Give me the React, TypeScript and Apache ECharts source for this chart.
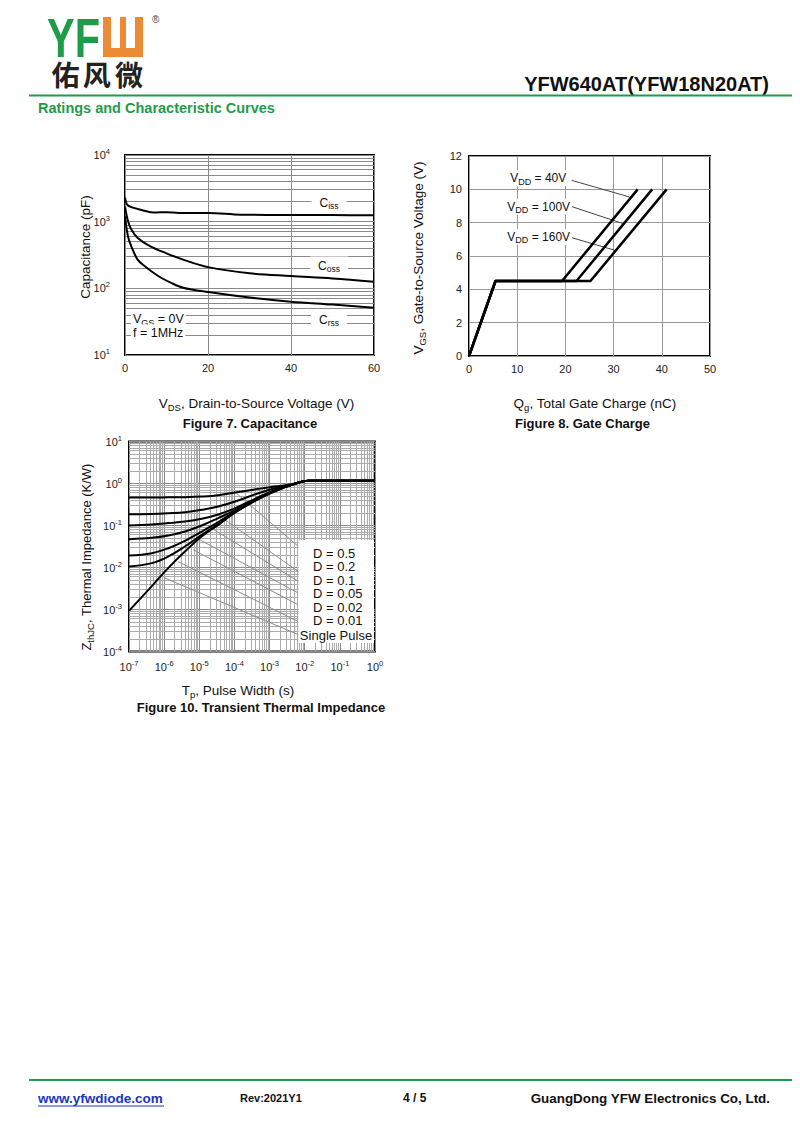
import React, { useEffect, useRef } from "react";
import * as echarts from "echarts";

// ---------- Figure 7: Capacitance (pF vs V_DS) ----------
const cissVds = [0, 0.5, 1.5, 4, 7, 10, 13, 20, 28, 40, 50, 60];
const cissPf = [2300, 1800, 1650, 1500, 1370, 1390, 1350, 1350, 1270, 1260, 1255, 1250];
const cossVds = [0, 0.7, 1.5, 3, 6, 10, 14, 20, 30, 40, 50, 60];
const cossPf = [1700, 1030, 770, 575, 430, 335, 270, 208, 168, 153, 141, 126];
const crssVds = [0, 0.7, 1.5, 3, 4.7, 8, 11, 14, 20, 30, 40, 50, 60];
const crssPf = [1200, 610, 430, 272, 216, 153, 122, 102, 88, 73, 63, 57, 51];

// ---------- Figure 8: Gate charge ----------
const gcVgs = [0, 4.5, 4.5, 10];
const gcQ40 = [0, 5.5, 19.3, 35];
const gcQ100 = [0, 5.5, 22.3, 38];
const gcQ160 = [0, 5.5, 25.2, 41];
const gcLabels = ["40V", "100V", "160V"];
const leaderFromQ = [21.3, 20.95, 20.95];
const leaderFromV = [10.54, 9.0, 7.13];
const leaderToQ = [33.3, 31.8, 30.2];
const leaderToV = [9.54, 7.96, 6.35];

// ---------- Figure 10: Transient thermal impedance ----------
const tpSec = [1e-7, 4.47e-7, 1.32e-6, 3.9e-6, 1.17e-5, 3.47e-5, 1.05e-4, 4.8e-4, 1.41e-3, 4.27e-3, 1.26e-2, 1];
const zD050 = [0.465, 0.465, 0.469, 0.473, 0.49, 0.527, 0.611, 0.745, 0.849, 0.962, 1.156, 1.156];
const zD020 = [0.186, 0.189, 0.196, 0.207, 0.236, 0.283, 0.372, 0.587, 0.773, 0.946, 1.156, 1.156];
const zD010 = [0.1, 0.106, 0.114, 0.124, 0.144, 0.183, 0.259, 0.473, 0.693, 0.929, 1.156, 1.156];
const zD005 = [0.0472, 0.0508, 0.0578, 0.0719, 0.1, 0.15, 0.232, 0.456, 0.681, 0.929, 1.156, 1.156];
const zD002 = [0.0193, 0.0219, 0.0288, 0.0431, 0.0719, 0.12, 0.215, 0.44, 0.668, 0.929, 1.156, 1.156];
const zD001 = [0.0106, 0.0127, 0.0183, 0.0316, 0.06, 0.108, 0.207, 0.431, 0.656, 0.929, 1.156, 1.156];
const zSingle = [0.00093, 0.0036, 0.0098, 0.024, 0.0547, 0.1035, 0.204, 0.427, 0.646, 0.929, 1.156, 1.156];
const dutyLabels = ["D = 0.5", "D = 0.2", "D = 0.1", "D = 0.05", "D = 0.02", "D = 0.01"];
// faint template diagonals (exponents)
const diagFromLogT = [-3.92, -4.46, -4.74, -5.07, -5.17, -5.6, -5.98];
const diagFromLogZ = [-0.25, -0.75, -1.02, -1.3, -1.58, -1.86, -2.25];
const diagToLogT = [-2.18, -2.18, -2.18, -2.18, -2.18, -2.18, -2.18];
const diagToLogZ = [-1.5, -2.1, -2.33, -2.61, -2.89, -3.29, -3.6];

const MINOR_STEPS = [2, 3, 4, 5, 6, 7, 8, 9];

const FONT = '"Liberation Sans", Arial, Helvetica, sans-serif';
const CJK = '"Noto Sans CJK SC", sans-serif';
const GREEN = "#1f9c4a";
const ORANGE = "#ec8a36";

const minorLogs = (from: number, to: number) => {
  const out: number[] = [];
  for (let n = from; n < to; n++) MINOR_STEPS.forEach((k) => out.push(n + Math.log10(k)));
  return out;
};

const sub = (size: number) => ({
  fontSize: size,
  fontFamily: FONT,
  fill: "#111",
  color: "#111",
  verticalAlign: "bottom",
  lineHeight: size + 1,
});

function txt(x: number, y: number, text: string, size: number, o: any = {}) {
  const style: any = {
    text,
    fontSize: size,
    fontFamily: o.family || FONT,
    fontWeight: o.bold ? "bold" : "normal",
    fill: o.color || "#111",
    textAlign: o.align || "left",
    align: o.align || "left",
    textVerticalAlign: "middle",
    verticalAlign: "middle",
    lineHeight: o.lineHeight || Math.round(size * 1.35),
  };
  if (o.bg) {
    style.backgroundColor = o.bg;
    style.padding = o.padding || [0, 3];
  }
  if (o.rich) style.rich = o.rich;
  return {
    type: "text",
    x,
    y,
    z: 100,
    rotation: o.rotation || 0,
    scaleX: o.scaleX || 1,
    silent: true,
    style,
  };
}

const line = (x1: number, y1: number, x2: number, y2: number, color: string, w: number) => ({
  type: "line",
  z: 100,
  silent: true,
  shape: { x1, y1, x2, y2 },
  style: { stroke: color, lineWidth: w },
});

const rect = (x: number, y: number, w: number, h: number, fill: string, z = 100) => ({
  type: "rect",
  z,
  silent: true,
  shape: { x, y, width: w, height: h },
  style: { fill },
});

const baseLabel = { fontFamily: FONT, fontSize: 11, color: "#222" };
const powLabel = (margin: number) => ({
  ...baseLabel,
  margin,
  lineHeight: 15,
  showMinLabel: true,
  showMaxLabel: true,
  hideOverlap: false,
  formatter: (v: number) => "10{sup|" + Math.round(v) + "}",
  rich: { sup: { fontFamily: FONT, fontSize: 7.5, color: "#222", verticalAlign: "top", lineHeight: 8 } },
});
const linLabel = (margin: number) => ({
  ...baseLabel,
  margin,
  showMinLabel: true,
  showMaxLabel: true,
  hideOverlap: false,
});

const axisCommon = (gi: number, min: number, max: number, interval: number, label: any, split: string) => ({
  gridIndex: gi,
  type: "value",
  min,
  max,
  interval,
  axisLine: { show: false },
  axisTick: { show: false },
  splitLine: { show: true, lineStyle: { color: split, width: 1 } },
  axisLabel: label,
});

function gridLines(gi: number, vals: number[], axis: string, color: string) {
  return {
    type: "line",
    xAxisIndex: gi,
    yAxisIndex: gi,
    data: [],
    silent: true,
    z: 1,
    markLine: {
      silent: true,
      z: 1,
      symbol: ["none", "none"],
      label: { show: false },
      emphasis: { disabled: true },
      lineStyle: { color, width: 1, type: "solid" },
      data: vals.map((v) => ({ [axis]: v })),
    },
  };
}

function curve(gi: number, pts: number[][], width: number, smooth: any, color = "#000", z = 10) {
  return {
    type: "line",
    xAxisIndex: gi,
    yAxisIndex: gi,
    showSymbol: false,
    symbol: "none",
    smooth,
    silent: true,
    z,
    lineStyle: { color, width, join: "round" },
    data: pts,
  };
}

function buildOption() {
  const L = Math.log10;
  const cap = (xs: number[], ys: number[]) => xs.map((x, i) => [x, L(ys[i])]);
  const gc = (qs: number[]) => qs.map((q, i) => [q, gcVgs[i]]);
  const th = (zs: number[]) => tpSec.map((t, i) => [L(t), L(zs[i])]);

  const series: any[] = [
    // Fig 7
    gridLines(0, minorLogs(1, 4), "yAxis", "#8a8a8a"),
    curve(0, cap(cissVds, cissPf), 2, 0.35),
    curve(0, cap(cossVds, cossPf), 2, 0.35),
    curve(0, cap(crssVds, crssPf), 2, 0.35),
    // Fig 8
    curve(1, gc(gcQ40), 2.5, false),
    curve(1, gc(gcQ100), 2.5, false),
    curve(1, gc(gcQ160), 2.5, false),
    ...leaderFromQ.map((q, i) =>
      curve(1, [[q, leaderFromV[i]], [leaderToQ[i], leaderToV[i]]], 1, false, "#444", 9)
    ),
    // Fig 10
    gridLines(2, minorLogs(-7, 0), "xAxis", "#ababab"),
    gridLines(2, minorLogs(-4, 1), "yAxis", "#ababab"),
    ...diagFromLogT.map((t, i) =>
      curve(2, [[t, diagFromLogZ[i]], [diagToLogT[i], diagToLogZ[i]]], 1, false, "#8c8c8c", 5)
    ),
    curve(2, th(zSingle), 2, 0.4),
    curve(2, th(zD001), 2, 0.4),
    curve(2, th(zD002), 2, 0.4),
    curve(2, th(zD005), 2, 0.4),
    curve(2, th(zD010), 2, 0.4),
    curve(2, th(zD020), 2, 0.4),
    curve(2, th(zD050), 2, 0.4),
  ];

  const gridBox = { show: true, borderColor: "#000", borderWidth: 2, backgroundColor: "transparent" };

  const R = { s: sub(9) };
  const Rbig = { s: sub(9.5) };
  const rot = Math.PI / 2;

  const graphic: any[] = [
    // header
    txt(47, 37, "YF", 56, { bold: true, color: GREEN, scaleX: 0.74, lineHeight: 60 }),
    rect(103, 17, 40, 40, ORANGE),
    rect(111, 17, 9, 31, "#fff", 101),
    rect(126, 17, 9, 31, "#fff", 101),
    txt(152, 19, "®", 10, { color: "#444" }),
    txt(65.5, 74, "佑", 28, { family: CJK, bold: true, align: "center", color: "#222" }),
    txt(96.7, 74, "风", 28, { family: CJK, bold: true, align: "center", color: "#222" }),
    txt(129, 74, "微", 28, { family: CJK, bold: true, align: "center", color: "#222" }),
    txt(769, 84, "YFW640AT(YFW18N20AT)", 20, { bold: true, align: "right", color: "#111" }),
    line(29, 95.5, 792, 95.5, GREEN, 2),
    txt(38, 107.5, "Ratings and Characteristic Curves", 14.5, { bold: true, color: GREEN }),

    // Fig 7 annotations
    txt(329, 203, "C{s|iss}", 12, { align: "center", bg: "#fff", padding: [1, 8, 2, 8], rich: { s: sub(8.5) } }),
    txt(329, 266, "C{s|oss}", 12, { align: "center", bg: "#fff", padding: [1, 8, 2, 8], rich: { s: sub(8.5) } }),
    txt(329, 320, "C{s|rss}", 12, { align: "center", bg: "#fff", padding: [1, 8, 2, 8], rich: { s: sub(8.5) } }),
    txt(131, 319, "V{s|GS} = 0V", 12.5, { bg: "#fff", padding: [1, 2, 2, 2], rich: { s: sub(9) } }),
    txt(131, 333, "f = 1MHz", 12.5, { bg: "#fff", padding: [0, 2] }),
    txt(85, 247, "Capacitance (pF)", 13.5, { align: "center", rotation: rot }),
    txt(256.5, 403, "V{s|DS}, Drain-to-Source Voltage (V)", 13.5, { align: "center", rich: Rbig }),
    txt(250, 423, "Figure 7. Capacitance", 13, { align: "center", bold: true }),

    // Fig 8 annotations
    txt(538.2, 178.3, "V{s|DD} = " + gcLabels[0], 12, { align: "center", bg: "#fff", padding: [0, 2], rich: R }),
    txt(538.7, 206.7, "V{s|DD} = " + gcLabels[1], 12, { align: "center", bg: "#fff", padding: [0, 2], rich: R }),
    txt(538.7, 236.7, "V{s|DD} = " + gcLabels[2], 12, { align: "center", bg: "#fff", padding: [0, 2], rich: R }),
    txt(418, 258, "V{s|GS}, Gate-to-Source Voltage (V)", 13.5, { align: "center", rotation: rot, rich: Rbig }),
    txt(595, 403, "Q{s|g}, Total Gate Charge (nC)", 13.5, { align: "center", rich: Rbig }),
    txt(582.5, 423, "Figure 8. Gate Charge", 13, { align: "center", bold: true }),

    // Fig 10 annotations
    rect(298.5, 540, 75.5, 103, "#fff", 90),
    ...dutyLabels.map((d, i) => txt(313, 553.3 + i * 13.5, d, 13)),
    txt(336, 635, "Single Pulse", 13, { align: "center" }),
    txt(86, 557, "Z{s|thJC}, Thermal Impedance (K/W)", 13, { align: "center", rotation: rot, rich: Rbig }),
    txt(238, 690, "T{s|p}, Pulse Width (s)", 13.5, { align: "center", rich: Rbig }),
    txt(261, 707, "Figure 10. Transient Thermal Impedance", 13, { align: "center", bold: true }),

    // footer
    line(29, 1080, 792, 1080, GREEN, 2),
    txt(38, 1098, "www.yfwdiode.com", 13.5, { bold: true, color: "#1a35c4" }),
    line(38, 1106, 164, 1106, "#1a35c4", 1),
    txt(240, 1098, "Rev:2021Y1", 11, { bold: true }),
    txt(403, 1098, "4 / 5", 12, { bold: true }),
    txt(770, 1098, "GuangDong YFW Electronics Co, Ltd.", 13.4, { bold: true, align: "right" }),
  ];

  return {
    animation: false,
    backgroundColor: "#fff",
    grid: [
      { left: 125, top: 155, width: 249, height: 200, ...gridBox },
      { left: 469, top: 156, width: 241, height: 200, ...gridBox },
      { left: 129, top: 441.5, width: 246, height: 210, ...gridBox },
    ],
    xAxis: [
      axisCommon(0, 0, 60, 20, linLabel(7), "#8a8a8a"),
      axisCommon(1, 0, 50, 10, linLabel(7), "#999"),
      axisCommon(2, -7, 0, 1, powLabel(8), "#8a8a8a"),
    ],
    yAxis: [
      axisCommon(0, 1, 4, 1, powLabel(15), "#8a8a8a"),
      axisCommon(1, 0, 12, 2, linLabel(7), "#999"),
      axisCommon(2, -4, 1, 1, powLabel(7), "#8a8a8a"),
    ],
    series,
    graphic: { elements: graphic },
  };
}

export default function App() {
  const ref = useRef<HTMLDivElement>(null);
  useEffect(() => {
    if (!ref.current) return;
    const chart = echarts.init(ref.current, null, { renderer: "svg" });
    chart.setOption(buildOption() as any);
    return () => chart.dispose();
  }, []);
  return (
    <div
      ref={ref}
      style={{ position: "absolute", left: 0, top: 0, width: 800, height: 1138, background: "#fff" }}
    />
  );
}
